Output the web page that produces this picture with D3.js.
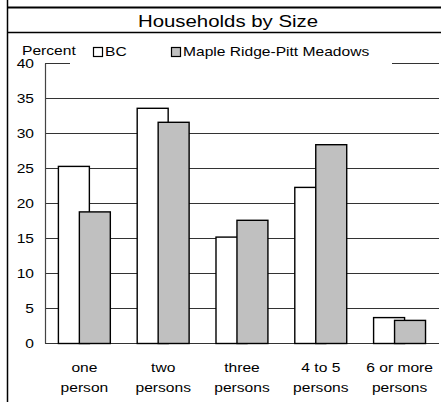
<!DOCTYPE html>
<html>
<head>
<meta charset="utf-8">
<script src="https://cdn.jsdelivr.net/npm/d3@7"></script>
<style>
  html, body { margin: 0; padding: 0; background: #fff; }
  svg { display: block; font-family: "Liberation Sans", Arial, sans-serif; }
</style>
</head>
<body>
<script>
const title = "Households by Size";
const yLabel = "Percent";
const categories = [["one", "person"], ["two", "persons"], ["three", "persons"], ["4 to 5", "persons"], ["6 or more", "persons"]];
const seriesNames = ["BC", "Maple Ridge-Pitt Meadows"];
const bcValues = [25.3, 33.6, 15.2, 22.3, 3.7];
const mrValues = [18.8, 31.6, 17.6, 28.4, 3.3];
const yTicks = [0, 5, 10, 15, 20, 25, 30, 35, 40];

const W = 441, H = 402;
const SX = 1.2; // horizontal stretch of text seen in the reference
const svg = d3.select("body").append("svg").attr("width", W).attr("height", H);

// frame
svg.append("line").attr("x1", 7.5).attr("x2", 7.5).attr("y1", 0).attr("y2", H)
  .attr("stroke", "#000").attr("stroke-width", 1.5);
svg.append("line").attr("x1", 7).attr("x2", W).attr("y1", 7.5).attr("y2", 7.5)
  .attr("stroke", "#000").attr("stroke-width", 2);
svg.append("line").attr("x1", 7).attr("x2", W).attr("y1", 32.5).attr("y2", 32.5)
  .attr("stroke", "#000").attr("stroke-width", 1.5);

svg.append("text").attr("transform", `translate(228,27) scale(${SX},1)`)
  .attr("text-anchor", "middle").attr("font-size", 17).text(title);

const keys = categories.map(d => d.join(" "));
const x = d3.scaleBand().domain(keys).range([45, 439]);
const y = d3.scaleLinear().domain([0, 40]).range([343.5, 63.5]);

// gridlines
svg.append("g").selectAll("line").data(yTicks).join("line")
  .attr("x1", 45).attr("x2", 439)
  .attr("y1", d => y(d)).attr("y2", d => y(d))
  .attr("stroke", "#333").attr("stroke-width", 1);

// y axis line
svg.append("line").attr("x1", 45.5).attr("x2", 45.5).attr("y1", y(40)).attr("y2", y(0))
  .attr("stroke", "#444").attr("stroke-width", 1.2);

// y tick labels
svg.append("g").selectAll("text").data(yTicks).join("text")
  .attr("transform", d => `translate(34,${y(d) + 4.8}) scale(${SX},1)`)
  .attr("text-anchor", "end").attr("font-size", 13).text(d => d);

// bars
const bw = x.bandwidth();
const barW = bw * 0.393;
const groupStart = bw / 2 - bw * 0.33;
const offset = bw * 0.266;
const bars = svg.append("g");
bars.selectAll("rect.bc").data(bcValues).join("rect").attr("class", "bc")
  .attr("x", (d, i) => x(keys[i]) + groupStart)
  .attr("y", d => y(d)).attr("width", barW).attr("height", d => y(0) - y(d))
  .attr("fill", "#fff").attr("stroke", "#000").attr("stroke-width", 1.4);
bars.selectAll("rect.mr").data(mrValues).join("rect").attr("class", "mr")
  .attr("x", (d, i) => x(keys[i]) + groupStart + offset)
  .attr("y", d => y(d)).attr("width", barW).attr("height", d => y(0) - y(d))
  .attr("fill", "#c0c0c0").attr("stroke", "#000").attr("stroke-width", 1.4);

// x labels
const xl = svg.append("g").selectAll("g").data(categories).join("g");
xl.each(function(d, i) {
  const cx = x(keys[i]) + bw / 2;
  d.forEach((line, j) => {
    d3.select(this).append("text")
      .attr("transform", `translate(${cx},${372 + j * 19.5}) scale(${SX},1)`)
      .attr("text-anchor", "middle").attr("font-size", 13).text(line);
  });
});

// legend
svg.append("rect").attr("x", 70).attr("y", 40).attr("width", 322).attr("height", 26).attr("fill", "#fff");
svg.append("text").attr("transform", `translate(22,55) scale(${SX},1)`)
  .attr("font-size", 13).text(yLabel);
const legendX = [93, 171];
const fills = ["#fff", "#c0c0c0"];
seriesNames.forEach((name, i) => {
  svg.append("rect").attr("x", legendX[i] + 0.5).attr("y", 47.5).attr("width", 9).attr("height", 9)
    .attr("fill", fills[i]).attr("stroke", "#000").attr("stroke-width", 1.2);
  svg.append("text").attr("transform", `translate(${legendX[i] + 12},56) scale(${SX},1)`)
    .attr("font-size", 13).text(name);
});
</script>
</body>
</html>
